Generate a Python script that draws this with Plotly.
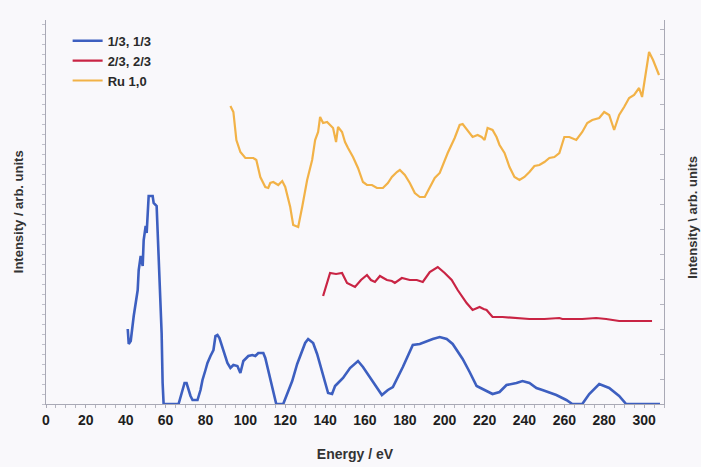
import plotly.graph_objects as go

# Spectrum 1/3, 1/3
e_13 = [41, 41.5, 42.5, 44, 46, 46.5, 47.5, 48.5, 49, 50, 50.5, 51, 51.5, 53.5, 54, 55.5, 56, 57, 58,
        58.5, 59, 66.5, 68.5, 69.5, 70.5, 71.5, 72.5, 73.5, 75, 76, 77.5, 78.5, 80, 81, 82.5, 84, 85, 86,
        87, 89, 91, 92.5, 94, 96, 97.5, 99, 101.5, 103.5, 105, 106.5, 109, 110, 111.5, 113.5, 115.5,
        119, 121, 123.5, 126, 128.5, 130, 131.5, 134, 136, 137.5, 138.5, 140, 141.5, 143.5, 145, 146.5,
        149, 152.5, 156.5, 159, 162.5, 166, 168.5, 171.5, 174, 179, 184, 187.5, 191, 194, 197.5, 201,
        204, 209, 212.5, 216, 219, 224, 227.5, 231, 236, 239, 242.5, 246, 249, 256, 261, 264, 269,
        272.5, 277.5, 282.5, 287.5, 291, 308]
i_13 = [75, 60, 63, 88, 114, 134, 148, 138, 164, 178, 171, 198, 208, 208, 201, 198, 171, 121, 71,
        21, 0, 0, 14, 21, 21, 13, 8, 4, 4, 4, 14, 24, 34, 41, 48, 54, 68, 69,
        66, 54, 41, 36, 39, 38, 31, 43, 48, 49, 48, 51, 51, 46, 34, 18, 0,
        0, 10, 23, 40, 53, 61, 65, 61, 50, 40, 33, 23, 11, 10, 18, 21,
        26, 36, 43, 37, 27, 17, 9, 14, 17, 37, 59, 60, 63, 65, 67, 65,
        60, 45, 32, 18, 15, 10, 12, 19, 21, 23, 21, 16, 14, 9, 4, 0, 0,
        10, 20, 16, 8, 0, 0]

# Spectrum 2/3, 2/3
e_23 = [139, 140.5, 142.5, 145.5, 148.5, 151, 153, 155, 158, 161, 163, 165, 167.5, 171, 173.5, 175,
        178.5, 182.5, 186, 189, 192.5, 196.5, 200, 203.5, 206.5, 211, 214, 217.5, 219.5, 221, 224,
        229, 242.5, 250, 257.5, 259, 269, 276, 281, 287.5, 304]
i_23 = [108, 118, 131, 130, 131, 121, 119, 117, 124, 129, 124, 122, 128, 124, 123, 121,
        126, 124, 124, 122, 132, 137, 131, 124, 114, 101, 94, 97, 95, 94, 87,
        87, 85, 85, 86, 85, 85, 86, 85, 83, 83]

# Ru 1,0
e_ru = [92.5, 94, 95.5, 97.5, 100, 104, 105.5, 107.5, 110, 111.5, 112.5, 114, 116.5, 118.5, 120,
        122.5, 124, 126.5, 128.5, 131, 133.5, 135, 136.5, 137.5, 139, 141, 142.5, 144, 145.5, 146.5,
        148.5, 150, 151.5, 154, 156.5, 159, 161, 163.5, 166, 169, 171.5, 173.5, 176, 177.5, 180,
        182.5, 185, 187.5, 190, 192.5, 195, 197.5, 201.5, 205, 207.5, 209, 211.5, 214, 216.5, 218.5,
        220, 221.5, 224, 226, 227.5, 230, 232.5, 235, 237.5, 240, 242.5, 245, 247.5, 250, 252.5,
        255, 257.5, 260, 262.5, 266, 269, 271.5, 274, 277.5, 280, 282.5, 285, 287.5, 290, 292.5,
        295, 297.5, 299, 301, 302.5, 304.5, 307.5]
i_ru = [298, 292, 264, 252, 246, 246, 244, 227, 217, 216, 221, 222, 219, 223, 217,
        197, 179, 177, 197, 224, 244, 264, 272, 287, 281, 282, 279, 276, 262, 277,
        272, 262, 256, 247, 236, 222, 219, 219, 216, 216, 221, 227, 232, 234, 229,
        221, 211, 207, 207, 216, 226, 231, 251, 266, 279, 280, 274, 267, 269, 267,
        264, 276, 274, 267, 259, 251, 237, 227, 224, 227, 232, 238, 239, 242, 246,
        247, 251, 267, 267, 264, 272, 281, 284, 286, 292, 289, 274, 289, 297, 306,
        309, 316, 307, 332, 352, 344, 329]

x_ticks = list(range(0, 301, 20))

BOLD = dict(family="Liberation Sans, Arial, sans-serif", weight="bold")

fig = go.Figure()
fig.add_trace(go.Scatter(x=e_13, y=i_13, mode="lines", name="1/3, 1/3",
                         line=dict(color="#3d5fc0", width=2.6)))
fig.add_trace(go.Scatter(x=e_23, y=i_23, mode="lines", name="2/3, 2/3",
                         line=dict(color="#c92444", width=2.2)))
fig.add_trace(go.Scatter(x=e_ru, y=i_ru, mode="lines", name="Ru 1,0",
                         line=dict(color="#f2b247", width=2.2)))
# empty trace so the right-hand intensity axis is drawn
fig.add_trace(go.Scatter(x=[], y=[], yaxis="y2", showlegend=False, hoverinfo="skip"))

fig.update_layout(
    width=701, height=467,
    margin=dict(l=46, r=37, t=20, b=63),
    paper_bgcolor="#f9f8fb", plot_bgcolor="#f9f8fb",
    showlegend=True,
    legend=dict(x=0.035, y=0.985, xanchor="left", yanchor="top",
                bgcolor="rgba(0,0,0,0)", itemwidth=30, tracegroupgap=0,
                font=dict(size=13, color="#2a2a2a", **BOLD)),
    xaxis=dict(range=[0, 310], tickvals=x_ticks, showgrid=False, zeroline=False,
               automargin=False,
               showline=True, linecolor="#a9a9b5", linewidth=1.2,
               ticks="outside", ticklen=3, tickcolor="#a9a9b5",
               minor=dict(dtick=5, ticks="outside", ticklen=3, tickcolor="#b5b5c0"),
               tickfont=dict(size=14, color="#1e1e1e", **BOLD),
               title=dict(text="Energy / eV", standoff=22,
                          font=dict(size=14, color="#333333", **BOLD))),
    yaxis=dict(range=[0, 384], showgrid=False, zeroline=False, showticklabels=False,
               automargin=False,
               showline=True, linecolor="#a9a9b5", linewidth=1.2,
               ticks="outside", ticklen=3, tickcolor="#c0c0cb", dtick=10),
    yaxis2=dict(range=[0, 384], overlaying="y", side="right", showgrid=False,
                automargin=False,
                zeroline=False, showticklabels=False, showline=True,
                linecolor="#a9a9b5", linewidth=1.2, ticks="inside", ticklen=4,
                tickcolor="#b5b5c0", dtick=25),
    annotations=[
        dict(text="Intensity / arb. units", xref="paper", yref="paper",
             x=-0.045, y=0.5, xanchor="center", yanchor="middle",
             textangle=-90, showarrow=False,
             font=dict(size=13, color="#333333", **BOLD)),
        dict(text="Intensity \\ arb. units", xref="paper", yref="paper",
             x=1.047, y=0.485, xanchor="center", yanchor="middle",
             textangle=-90, showarrow=False,
             font=dict(size=13, color="#333333", **BOLD)),
    ],
)

fig.write_html("out.html")
